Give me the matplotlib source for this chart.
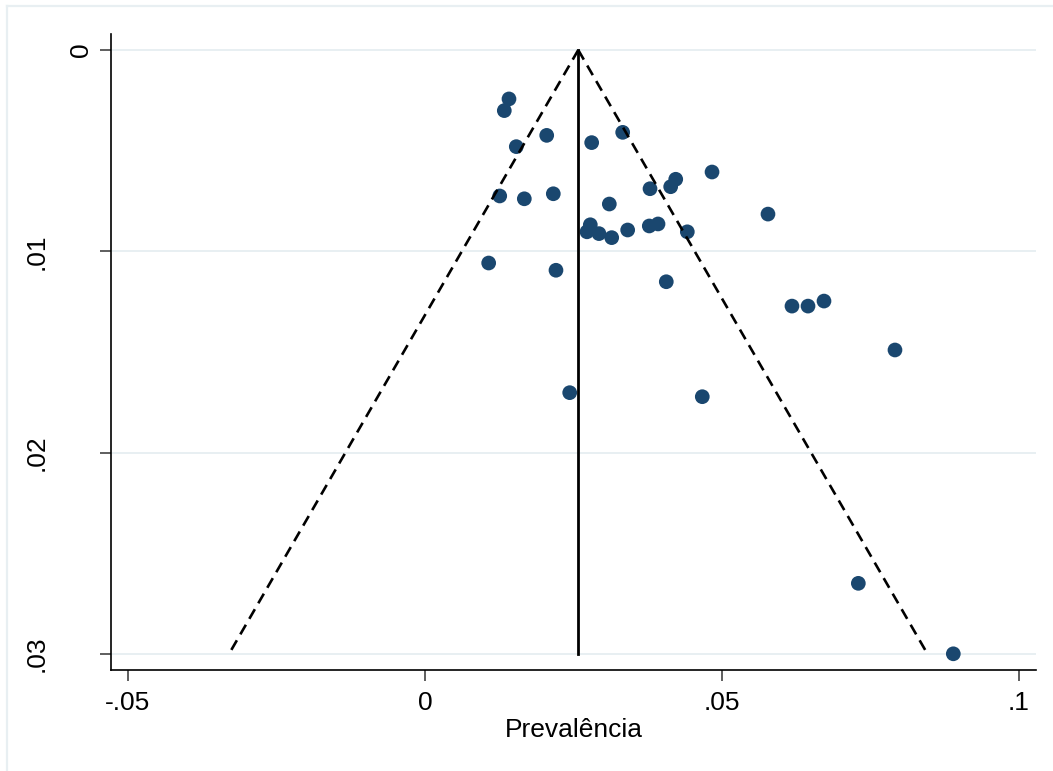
import matplotlib
matplotlib.use("Agg")
import matplotlib.pyplot as plt
from matplotlib.lines import Line2D
from matplotlib.transforms import ScaledTranslation
import numpy as np

plt.rcParams['font.family'] = ['Liberation Sans', 'DejaVu Sans']

# Study estimates: prevalence and its standard error
prevalence = [0.01414, 0.01335, 0.02049, 0.01537, 0.02806, 0.03328, 0.04832,
              0.04221, 0.04136, 0.03788, 0.01258, 0.01672, 0.02160, 0.03103,
              0.02783, 0.02727, 0.02929, 0.03143, 0.03412, 0.03776, 0.03923,
              0.04416, 0.01072, 0.02205, 0.04062, 0.02436, 0.04668, 0.05774,
              0.06178, 0.06448, 0.06717, 0.07912, 0.07295, 0.08894]
std_error = [0.00243, 0.00301, 0.00424, 0.00480, 0.00460, 0.00409, 0.00606,
             0.00642, 0.00679, 0.00689, 0.00725, 0.00739, 0.00714, 0.00765,
             0.00868, 0.00903, 0.00912, 0.00932, 0.00894, 0.00874, 0.00864,
             0.00903, 0.01058, 0.01094, 0.01151, 0.01702, 0.01722, 0.00815,
             0.01272, 0.01272, 0.01247, 0.01490, 0.02649, 0.02999]
pooled = 0.0258
se_max = 0.03

x_ticks = [-0.05, 0, 0.05, 0.1]
x_tick_labels = ['-.05', '0', '.05', '.1']
y_ticks = [0, 0.01, 0.02, 0.03]
y_tick_labels = ['0', '.01', '.02', '.03']

W, H = 1053, 771
fig = plt.figure(figsize=(W / 100, H / 100), dpi=100)
fig.patch.set_facecolor('white')

ax = fig.add_axes([111 / W, 1 - 670 / H, (1036 - 111) / W, (670 - 34) / H])
ax.set_xlim(-0.05286, 0.10286)
ax.set_ylim(0.030795, -0.000795)

grid_col = '#e8eff2'
for yt in y_ticks:
    ax.axhline(yt, color=grid_col, lw=1.4, zorder=0)

ax.scatter(prevalence, std_error, s=112, color='#1a476f', edgecolors='none', zorder=2)

# Pooled estimate and 95% pseudo-confidence limits
ax.plot([pooled, pooled], [0, se_max], color='black', lw=2.0, zorder=3)
ax.plot([pooled, pooled - 1.96 * se_max], [0, se_max], color='black', lw=1.9,
        linestyle=(0, (4.2, 2.6)), zorder=3)
ax.plot([pooled, pooled + 1.96 * se_max], [0, se_max], color='black', lw=1.9,
        linestyle=(0, (4.2, 2.6)), zorder=3)

for side in ['top', 'right']:
    ax.spines[side].set_visible(False)
for side in ['left', 'bottom']:
    ax.spines[side].set_linewidth(1.2)
    ax.spines[side].set_color('black')

ax.set_xticks(x_ticks)
ax.set_xticklabels(x_tick_labels)
ax.set_yticks(y_ticks)
ax.set_yticklabels(y_tick_labels, rotation=90, va='center')
ax.tick_params(axis='both', direction='out', length=8, width=1.1,
               color='#333333', labelsize=19)
ax.tick_params(axis='x', pad=7)
ax.tick_params(axis='y', pad=37)

# The zero label sits closer to the axis
lab0 = ax.get_yticklabels()[0]
lab0.set_transform(lab0.get_transform() + ScaledTranslation(32 / 72, 0, fig.dpi_scale_trans))

ax.set_xlabel('Prevalência', fontsize=19, labelpad=2)

# Outer graph-region border
border_col = '#e8eff2'
fig.add_artist(Line2D([7 / W, 1.0], [1 - 6 / H, 1 - 6 / H], color=border_col, lw=1.6,
                      transform=fig.transFigure))
fig.add_artist(Line2D([7 / W, 7 / W], [0, 1 - 6 / H], color=border_col, lw=1.6,
                      transform=fig.transFigure))

fig.savefig('out.png', dpi=100, facecolor='white')
